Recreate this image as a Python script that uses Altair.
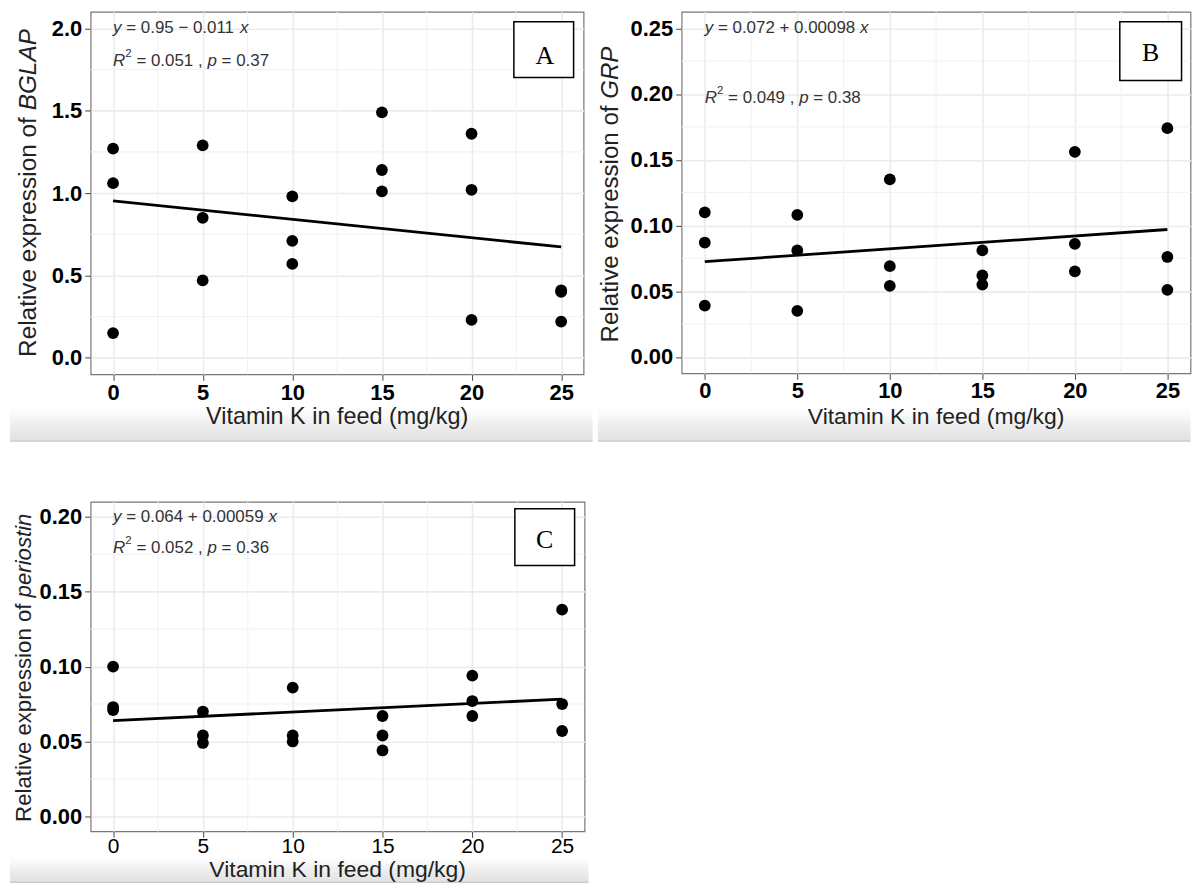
import altair as alt
import pandas as pd

# ---------------- data ----------------
dose = [0, 5, 10, 15, 20, 25]
bglap = [[1.27, 1.06, 0.15], [1.29, 0.85, 0.47], [0.98, 0.71, 0.57],
         [1.49, 1.14, 1.01], [1.36, 1.02, 0.23], [0.41, 0.40, 0.22]]
grp = [[0.110, 0.087, 0.039], [0.108, 0.081, 0.035], [0.135, 0.069, 0.054],
       [0.081, 0.062, 0.055], [0.156, 0.086, 0.065], [0.174, 0.076, 0.051]]
periostin = [[0.100, 0.073, 0.071], [0.070, 0.054, 0.049], [0.086, 0.054, 0.050],
             [0.067, 0.054, 0.044], [0.094, 0.077, 0.067], [0.138, 0.075, 0.057]]

x_major = [0, 5, 10, 15, 20, 25]
x_minor = [2.5, 7.5, 12.5, 17.5, 22.5]
a_major = [0, 0.5, 1.0, 1.5, 2.0]
a_minor = [0.25, 0.75, 1.25, 1.75]
b_major = [0, 0.05, 0.10, 0.15, 0.20, 0.25]
b_minor = [0.025, 0.075, 0.125, 0.175, 0.225]
c_major = [0, 0.05, 0.10, 0.15, 0.20]
c_minor = [0.025, 0.075, 0.125, 0.175]

eq_a = [("y", "it"), (" = 0.95 \u2212 0.011 ", "n"), ("x", "it")]
r2_a = [("R", "it"), ("2", "sup"), (" = 0.051 , ", "n"), ("p", "it"), (" = 0.37", "n")]
eq_b = [("y", "it"), (" = 0.072 + 0.00098 ", "n"), ("x", "it")]
r2_b = [("R", "it"), ("2", "sup"), (" = 0.049 , ", "n"), ("p", "it"), (" = 0.38", "n")]
eq_c = [("y", "it"), (" = 0.064 + 0.00059 ", "n"), ("x", "it")]
r2_c = [("R", "it"), ("2", "sup"), (" = 0.052 , ", "n"), ("p", "it"), (" = 0.36", "n")]

x_title = "Vitamin K in feed (mg/kg)"
y_prefix = "Relative expression of "

FONT = "Liberation Sans"
SERIF = "Liberation Serif"

AW = {" ": 0.278, ".": 0.278, ",": 0.278, "=": 0.584, "+": 0.584, "\u2212": 0.584,
      "y": 0.5, "x": 0.5, "R": 0.722, "p": 0.556, "e": 0.556, "l": 0.222, "a": 0.556,
      "t": 0.278, "i": 0.222, "v": 0.5, "s": 0.5, "o": 0.556, "n": 0.556, "r": 0.333,
      "f": 0.278, "B": 0.667, "G": 0.778, "L": 0.556, "A": 0.667, "P": 0.667}


def tw(s, size):
    return sum(AW.get(c, 0.556) for c in s) * size


def one():
    return pd.DataFrame({"k": [0]})


def panel(vals, ydom, ymaj, ymin, yfmt, width, height, eqs, gene, yt, xlab, xt, box, letter, band):
    rows = [{"dose": d, "value": v} for d, vs in zip(dose, vals) for v in vs]
    df = pd.DataFrame(rows)
    xs = alt.Scale(domain=[-1.25, 26.25], nice=False, zero=False)
    ys = alt.Scale(domain=ydom, nice=False, zero=False)
    xaxis = alt.Axis(values=x_major, grid=True, gridColor="#EBEBEB", gridWidth=1.6, domain=False,
                     tickColor="#555", tickSize=6, tickWidth=1.1, labelFont=FONT,
                     labelFontSize=xlab[0], labelFontWeight=xlab[1], labelColor="#000",
                     labelBaseline="middle", labelPadding=xlab[2], title=None, format="d")
    yaxis = alt.Axis(values=ymaj, grid=True, gridColor="#EBEBEB", gridWidth=1.6, domain=False,
                     tickColor="#555", tickSize=6, tickWidth=1.1, labelFont=FONT,
                     labelFontSize=22, labelFontWeight="bold", labelColor="#000",
                     labelPadding=3, title=None, format=yfmt)
    X = lambda f="dose:Q": alt.X(f, scale=xs, axis=xaxis)
    Y = lambda f="value:Q": alt.Y(f, scale=ys, axis=yaxis)

    grad = alt.Gradient(gradient="linear",
                        stops=[alt.GradientStop(color="rgba(255,255,255,0)", offset=0),
                               alt.GradientStop(color="#f1f1f1", offset=0.5),
                               alt.GradientStop(color="#e1e1e1", offset=1)],
                        x1=0, x2=0, y1=0, y2=1)
    bx0, bx1, by0, by1 = band
    layers = [
        alt.Chart(df).mark_circle(opacity=0).encode(x=X(), y=Y()),
        alt.Chart(one()).mark_rect(color=grad).encode(
            x=alt.value(bx0), x2=alt.value(bx1), y=alt.value(by0), y2=alt.value(by1)),
        alt.Chart(one()).mark_rule(color="#cdcdcd", strokeWidth=1.5).encode(
            x=alt.value(bx0), x2=alt.value(bx1), y=alt.value(by1)),
        alt.Chart(pd.DataFrame({"dose": x_minor})).mark_rule(color="#F2F2F2", strokeWidth=1.1).encode(
            x=X()),
        alt.Chart(pd.DataFrame({"value": ymin})).mark_rule(color="#F2F2F2", strokeWidth=1.1).encode(
            y=Y()),
        alt.Chart(df).transform_regression("dose", "value").mark_line(
            color="black", strokeWidth=2.8).encode(x=X(), y=Y()),
        alt.Chart(df).mark_circle(size=140, color="black", opacity=1).encode(x=X(), y=Y()),
    ]
    # regression equation and R2 annotations (italic parts as separate text pieces)
    size = 17
    for xd, yd, pieces in eqs:
        off = 0.0
        for txt, style in pieces:
            fs = size * 0.68 if style == "sup" else size
            lead = len(txt) - len(txt.lstrip(" "))
            s = txt.strip(" ")
            if s:
                layers.append(
                    alt.Chart(pd.DataFrame({"dose": [xd], "value": [yd], "t": [s]}))
                    .mark_text(align="left", baseline="middle", font=FONT, fontSize=fs,
                               fontStyle="italic" if style == "it" else "normal",
                               dx=off + tw(" " * lead, fs),
                               dy=-size * 0.4 if style == "sup" else 0, color="#333")
                    .encode(x=X(), y=Y(), text="t:N"))
            off += tw(txt, fs)
    # x title
    layers.append(alt.Chart(one()).mark_text(font=FONT, fontSize=xt[1], color="#222",
                                             align="center", baseline="middle").encode(
        x=alt.value(width / 2), y=alt.value(xt[0]), text=alt.value(x_title)))
    # y title with italic gene name
    xc, yc, ysz = yt
    wn = tw(y_prefix, ysz)
    wi = tw(gene, ysz)
    yj = yc + (wn + wi) / 2 - wn
    layers.append(alt.Chart(one()).mark_text(angle=270, align="right", baseline="middle", font=FONT,
                                             fontSize=ysz, color="#222").encode(
        x=alt.value(xc), y=alt.value(yj + tw(" ", ysz)), text=alt.value(y_prefix.strip())))
    layers.append(alt.Chart(one()).mark_text(angle=270, align="left", baseline="middle", font=FONT,
                                             fontSize=ysz, fontStyle="italic", color="#222").encode(
        x=alt.value(xc), y=alt.value(yj), text=alt.value(gene)))
    # panel letter box
    layers.append(alt.Chart(one()).mark_rect(fill="white", stroke="black", strokeWidth=1.5).encode(
        x=alt.value(box[0]), x2=alt.value(box[1]), y=alt.value(box[2]), y2=alt.value(box[3])))
    layers.append(alt.Chart(one()).mark_text(font=SERIF, fontSize=26, color="#000",
                                             align="center", baseline="middle").encode(
        x=alt.value(letter[1]), y=alt.value(letter[2]), text=alt.value(letter[0])))
    return alt.layer(*layers).properties(width=width, height=height)


A = panel(bglap, [-0.1, 2.1], a_major, a_minor, ".1f", 495, 364,
          [(0, 2.0, eq_a), (0, 1.8, r2_a)], "BGLAP", (-62.2, 182, 24.5),
          (22, "bold", 12), (407, 23.5), (425, 485, 10, 66), ("A", 456, 44), (-81, 504, 392, 431))
B = panel(grp, [-0.0125, 0.2625], b_major, b_minor, ".2f", 511, 363,
          [(0, 0.25, eq_b), (0, 0.197, r2_b)], "GRP", (-70.5, 183.5, 24.2),
          (22, "bold", 11), (407, 23), (440, 502, 10, 69), ("B", 471, 41), (-84, 511, 392, 431))
C = panel(periostin, [-0.01, 0.21], c_major, c_minor, ".2f", 496, 331,
          [(0, 0.2, eq_c), (0, 0.179, r2_c)], "periostin", (-67, 166.7, 22.3),
          (21, "normal", 9.7), (370, 23), (426, 486, 7, 64), ("C", 456, 38), (-81, 500, 353, 382))

chart = alt.concat(
    A, B, C, columns=2,
    spacing=alt.RowColnumber(row=128, column=97.5),
    bounds="flush", align="each"
).properties(padding=0).configure_view(stroke="#777", strokeWidth=1.2)

chart.save("out.html", embed_options={"renderer": "svg", "actions": False})
